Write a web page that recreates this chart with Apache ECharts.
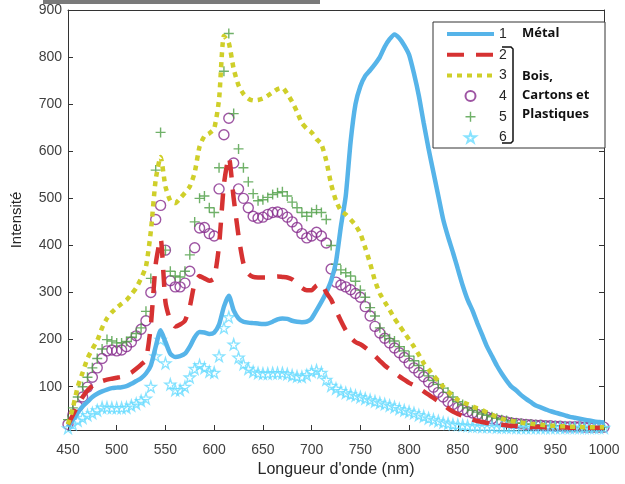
<!DOCTYPE html>
<html>
<head>
<meta charset="utf-8">
<script src="https://cdn.jsdelivr.net/npm/echarts@6/dist/echarts.min.js"></script>
<style>
  html, body { margin: 0; padding: 0; background: #fff; }
  #chart { width: 625px; height: 484px; }
</style>
</head>
<body>
<div id="chart"></div>
<script>
// longueurs d'onde, pas de 5 nm
const wl = [];
for (let x = 450; x <= 1000; x += 5) wl.push(x);

const xTicks = [450, 500, 550, 600, 650, 700, 750, 800, 850, 900, 950, 1000];
const yTicks = [100, 200, 300, 400, 500, 600, 700, 800, 900];

// 1 - Métal
const metal = [
  15, 30, 45, 58, 68, 78, 85, 90, 94, 97,
  98, 99, 101, 106, 112, 118, 128, 145, 185, 220,
  195, 170, 163, 165, 170, 185, 205, 216, 215, 212,
  215, 232, 270, 293, 262, 245, 238, 236, 235, 234,
  233, 234, 238, 243, 245, 244, 240, 238, 237, 238,
  245, 262, 280, 300, 325, 365, 440, 505, 620, 700,
  738, 760, 772, 785, 800, 822, 838, 848, 840, 825,
  805, 765, 718, 660, 605, 555, 505, 455, 418, 385,
  350, 315, 285, 262, 235, 210, 185, 165, 145, 128,
  113, 100, 92, 82, 74, 67, 60, 56, 52, 48,
  45, 42, 39, 36, 34, 32, 30, 28, 26, 25,
  24
];
// 2 - 6 : Bois, Cartons et Plastiques
const s2 = [
  20, 40, 60, 78, 92, 102, 108, 112, 115, 117,
  119, 121, 125, 130, 138, 147, 157, 230, 360, 415,
  280, 240, 228, 232, 240, 270, 320, 335, 330, 325,
  330, 400, 530, 588, 500, 420, 362, 340, 333, 332,
  332, 332, 333, 334, 333, 332, 328, 320, 310, 305,
  305, 315, 320, 300, 285, 262, 240, 220, 205, 195,
  190, 183, 175, 165, 155, 145, 137, 130, 122, 115,
  108, 103, 97, 90, 83, 76, 69, 62, 54, 47,
  42, 38, 34, 30, 27, 25, 23, 21, 20, 19,
  18, 17, 17, 16, 16, 15, 15, 15, 14, 14,
  14, 14, 14, 13, 13, 13, 13, 13, 13, 13,
  13
];
const s3 = [
  20, 55, 100, 130, 160, 180, 198, 225, 245, 258,
  268, 276, 284, 296, 310, 330, 355, 430, 540, 588,
  525, 495, 490, 500, 512, 525, 555, 610, 632, 638,
  648, 710, 845, 830, 775, 740, 722, 712, 708, 709,
  712, 718, 725, 732, 735, 722, 705, 684, 660, 648,
  640, 626, 615, 580, 530, 495, 474, 466, 455, 443,
  425, 395, 362, 325, 298, 280, 263, 245, 230, 215,
  200, 185, 168, 150, 137, 124, 112, 100, 90, 80,
  72, 67, 63, 58, 54, 50, 45, 40, 36, 32,
  29, 27, 25, 24, 22, 21, 20, 19, 18, 17,
  17, 16, 16, 15, 15, 15, 14, 14, 14, 14,
  14
];
const s4 = [
  20, 40, 58, 78, 99, 120, 140, 160, 176, 178,
  176, 178, 185, 195, 208, 222, 240, 300, 455, 485,
  390, 325, 312, 312, 320, 345, 395, 437, 438, 425,
  420, 520, 635, 670, 575, 520, 500, 480, 462, 458,
  460, 466, 470, 471, 468, 460, 450, 438, 425, 416,
  420, 428, 420, 405, 350, 322, 316, 312, 306, 298,
  290, 270, 250, 228, 214, 203, 193, 182, 172, 162,
  150, 140, 130, 121, 110, 99, 88, 78, 68, 62,
  56, 51, 47, 44, 41, 37, 35, 32, 29, 27,
  25, 23, 22, 21, 20, 19, 18, 18, 17, 17,
  16, 16, 15, 15, 15, 15, 14, 14, 14, 14,
  14
];
const s5 = [
  30, 55, 78, 100, 120, 140, 160, 180, 200, 197,
  193, 193, 196, 205, 213, 225, 260, 330, 560, 640,
  390, 345, 335, 333, 345, 380, 450, 500, 505, 480,
  470, 565, 770, 850, 680, 605, 565, 535, 510, 495,
  497, 502, 508, 512, 514, 505, 492, 480, 470, 462,
  470, 476, 470, 455, 400, 360, 348, 342, 335, 324,
  305, 290, 268, 250, 225, 208, 202, 197, 185, 176,
  165, 155, 145, 134, 123, 113, 105, 97, 88, 78,
  68, 62, 55, 50, 46, 42, 39, 36, 33, 30,
  28, 25, 23, 22, 21, 20, 19, 18, 18, 17,
  17, 16, 16, 15, 15, 15, 15, 14, 14, 14,
  14
];
const s6 = [
  12, 20, 28, 34, 40, 44, 50, 56, 56, 55,
  55, 55, 56, 60, 64, 70, 75, 100, 165, 200,
  150, 105, 93, 93, 100, 120, 138, 146, 140, 132,
  130, 165, 225, 248, 190, 162, 148, 138, 132, 129,
  128, 128, 129, 129, 129, 127, 124, 122, 121, 125,
  132, 135, 130, 115, 102, 96, 91, 87, 84, 81,
  78, 75, 72, 69, 66, 63, 60, 57, 53, 50,
  47, 44, 40, 37, 33, 30, 27, 24, 22, 20,
  19, 18, 17, 16, 16, 15, 15, 15, 14, 14,
  14, 14, 13, 13, 13, 13, 13, 13, 13, 13,
  13, 13, 13, 13, 13, 13, 13, 13, 13, 13,
  13
];

const pairs = ys => wl.map((x, i) => [x, ys[i]]);

const axisColor = '#333';
const font = '"Liberation Sans", Arial, sans-serif';
const boldFont = 'bold 13px "Open Sans", sans-serif';
const plusPath = 'path://M4.3,0H5.7V4.3H10V5.7H5.7V10H4.3V5.7H0V4.3H4.3Z';
const starPath = 'path://M50,0L61,35L98,35L68,57L79,91L50,70L21,91L32,57L2,35L39,35Z';

// les entrées "ligne" de la légende sans le point central
const lineItem = name => ({ name, itemStyle: { opacity: 0 }, lineStyle: { width: 4 } });

const chart = echarts.init(document.getElementById('chart'));
chart.setOption({
  animation: false,
  backgroundColor: '#fff',
  grid: { left: 68, right: 21, top: 10, bottom: 54 },
  xAxis: [
    {
      type: 'value', min: 450, max: 1000, interval: 50,
      name: "Longueur d'onde (nm)", nameLocation: 'middle', nameGap: 28,
      nameTextStyle: { color: '#262626', fontSize: 16, fontFamily: font },
      axisLine: { onZero: false, lineStyle: { color: axisColor } },
      axisTick: { inside: true, length: 5, lineStyle: { color: axisColor } },
      axisLabel: { color: '#404040', fontSize: 14, fontFamily: font, margin: 13, formatter: v => String(v) },
      splitLine: { show: false }
    },
    {
      type: 'value', min: 450, max: 1000, position: 'top',
      axisLine: { onZero: false, lineStyle: { color: axisColor } },
      axisTick: { show: false }, axisLabel: { show: false }, splitLine: { show: false }
    }
  ],
  yAxis: [
    {
      type: 'value', min: 8, max: 900,
      name: 'Intensité', nameLocation: 'middle', nameGap: 44,
      nameTextStyle: { color: '#262626', fontSize: 15, fontFamily: font },
      axisLine: { show: true, onZero: false, lineStyle: { color: axisColor } },
      axisTick: { show: true, inside: true, length: 5, customValues: yTicks, lineStyle: { color: axisColor } },
      axisLabel: { color: '#404040', fontSize: 14, fontFamily: font, margin: 6, customValues: yTicks },
      splitLine: { show: false }
    },
    {
      type: 'value', min: 8, max: 900, position: 'right',
      axisLine: { show: true, onZero: false, lineStyle: { color: axisColor } },
      axisTick: { show: true, inside: true, length: 5, customValues: yTicks, lineStyle: { color: axisColor } },
      axisLabel: { show: false }, splitLine: { show: false }
    }
  ],
  legend: {
    orient: 'vertical', left: 440, top: 22, z: 10,
    itemWidth: 47, itemHeight: 10, itemGap: 6.7, itemTextGap: 6,
    textStyle: { color: '#262626', fontSize: 14, lineHeight: 14, fontFamily: font },
    data: [lineItem('1'), lineItem('2'), lineItem('3'), '4', '5', '6']
  },
  series: [
    {
      name: '1', type: 'line', data: pairs(metal), symbol: 'none', smooth: 0.2,
      lineStyle: { color: '#56b4e9', width: 4.5 }, itemStyle: { color: '#56b4e9' }
    },
    {
      name: '2', type: 'line', data: pairs(s2), symbol: 'none', smooth: 0.2,
      lineStyle: { color: '#d63232', width: 4.5, type: [17, 12] }, itemStyle: { color: '#d63232' }
    },
    {
      name: '3', type: 'line', data: pairs(s3), symbol: 'none', smooth: 0.2,
      lineStyle: { color: '#cfcf2a', width: 4.5, type: [5, 5] }, itemStyle: { color: '#cfcf2a' }
    },
    {
      name: '4', type: 'scatter', data: pairs(s4), symbol: 'circle', symbolSize: 10,
      itemStyle: { color: 'rgba(0,0,0,0)', borderColor: '#862a8c', borderWidth: 1.4 }
    },
    {
      name: '5', type: 'scatter', data: pairs(s5), symbol: plusPath, symbolSize: 10,
      itemStyle: { color: '#4c9e44' }
    },
    {
      name: '6', type: 'scatter', data: pairs(s6), symbol: starPath, symbolSize: 11,
      itemStyle: { color: 'rgba(0,0,0,0)', borderColor: '#6adcff', borderWidth: 1.3 }
    }
  ],
  graphic: [
    { type: 'rect', shape: { x: 43, y: 0, width: 277, height: 4 }, style: { fill: '#7a7a7a' }, z: 5 },
    { type: 'rect', shape: { x: 433, y: 22, width: 172, height: 126 }, style: { fill: '#fff', stroke: '#333', lineWidth: 1 }, z: 3 },
    {
      type: 'polyline', z: 11,
      shape: { points: [[502, 47], [511, 47], [513, 49], [513, 141], [511, 143], [502, 143]] },
      style: { stroke: '#111', lineWidth: 1.5, fill: null }
    },
    { type: 'text', x: 522, y: 33, z: 11, style: { text: 'Métal', font: boldFont, fill: '#111', verticalAlign: 'middle' } },
    { type: 'text', x: 522, y: 76, z: 11, style: { text: 'Bois,', font: boldFont, fill: '#111', verticalAlign: 'middle' } },
    { type: 'text', x: 522, y: 95, z: 11, style: { text: 'Cartons et', font: boldFont, fill: '#111', verticalAlign: 'middle' } },
    { type: 'text', x: 522, y: 114, z: 11, style: { text: 'Plastiques', font: boldFont, fill: '#111', verticalAlign: 'middle' } }
  ]
});
</script>
</body>
</html>
